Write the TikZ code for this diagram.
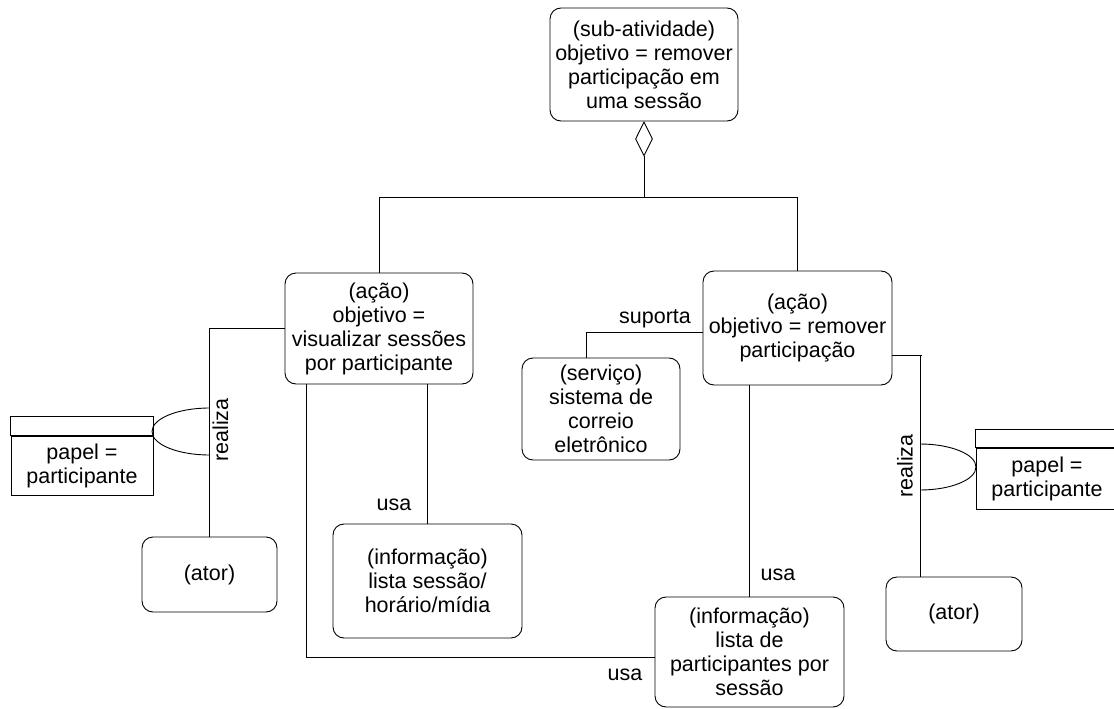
\documentclass[tikz,border=0pt]{standalone}
\usepackage{fontspec}
\setmainfont{Liberation Sans}
\usetikzlibrary{shapes.geometric}

\tikzset{
	caixa/.style={draw, rounded corners=11pt, align=center, inner sep=0pt},
	papel/.style={draw, align=center, inner sep=0pt, minimum width=142pt},
	rotulo/.style={inner sep=1pt}
}

\begin{document}
\begin{tikzpicture}[x=1pt, y=-1pt, line width=0.9pt, font=\fontsize{21.5}{24}\selectfont]
			\useasboundingbox (0,0) rectangle (1114,709);
			
			% caixas
			\node[caixa, minimum width=188pt, minimum height=113pt] (subativ) at (644,64.5) {(sub-atividade)\\objetivo = remover\\participação em\\uma sessão};
			\node[caixa, minimum width=188pt, minimum height=111pt] (acaoL) at (379,328.5) {(ação)\\objetivo =\\visualizar sessões\\por participante};
			\node[caixa, minimum width=189pt, minimum height=114pt] (acaoR) at (797.5,328) {(ação)\\objetivo = remover\\participação};
			\node[caixa, minimum width=158pt, minimum height=102pt] (servico) at (601,409) {(serviço)\\sistema de\\correio\\eletrônico};
			\node[caixa, minimum width=189pt, minimum height=114pt] (infoL) at (427.5,581) {(informação)\\lista sessão/\\horário/mídia};
			\node[caixa, minimum width=189pt, minimum height=110pt] (infoP) at (749.5,652) {(informação)\\lista de\\participantes por\\sessão};
			\node[caixa, minimum width=135pt, minimum height=75pt] (atorL) at (209.5,574.5) {(ator)};
			\node[caixa, minimum width=136pt, minimum height=74pt] (atorR) at (954,614) {(ator)};
			
			% papeis
			\node[papel, minimum height=59pt] (papelL) at (82,465.5) {papel =\\participante};
			\draw (papelL.north west) rectangle ([yshift=19pt]papelL.north east);
			\begin{scope}
				\clip (0,0) rectangle (1114,709);
				\node[papel, minimum height=61pt] (papelR) at (1047,478.5) {papel =\\participante};
				\draw (papelR.north west) rectangle ([yshift=18pt]papelR.north east);
			\end{scope}
			
			% agregacao
			\node[draw, diamond, inner sep=0pt, minimum width=17pt, minimum height=34pt, anchor=north] (losango) at (subativ.south) {};
			\coordinate (juncao) at (644,197);
			\draw (losango.south) -- (juncao);
			\draw (acaoL.north) -- (acaoL.north |- juncao) -- (acaoR.north |- juncao) -- (acaoR.north);
			
			% realiza
			\draw (acaoL.west) -- (atorL.north |- acaoL.west) -- (atorL.north);
			\coordinate (arcoL) at (209.5,431.5);
			\draw (arcoL) ++(0,23.5) arc[start angle=90, end angle=270, x radius=57.5, y radius=23.5];
			\node[rotulo, fill=white, rotate=90] (realizaL) at (220.5,430) {realiza};
			
			\coordinate (ligaR) at (920,355);
			\draw (acaoR.east |- ligaR) -- ([xshift=2pt]ligaR);
			\draw (ligaR) -- (ligaR |- atorR.north);
			\draw (ligaR |- 0,467) ++(0,23) arc[start angle=90, end angle=-90, x radius=56, y radius=23];
			\node[rotulo, rotate=90] (realizaR) at (905,466) {realiza};
			
			% suporta
			\coordinate (sup) at (586,332);
			\draw (acaoR.west |- sup) -- (sup) -- (sup |- servico.north);
			\node[rotulo] (suporta) at (655,319) {suporta};
			
			% usa
			\draw (infoL.north |- acaoL.south) -- (infoL.north);
			\node[rotulo] (usaL) at (394,505) {usa};
			\coordinate (cantoL) at (306,657);
			\draw (cantoL |- acaoL.south) -- (cantoL) -- (infoP.west |- cantoL);
			\node[rotulo] (usaB) at (625,675) {usa};
			\draw (infoP.north |- acaoR.south) -- (infoP.north);
			\node[rotulo] (usaR) at (778,575) {usa};
\end{tikzpicture}
\end{document}
